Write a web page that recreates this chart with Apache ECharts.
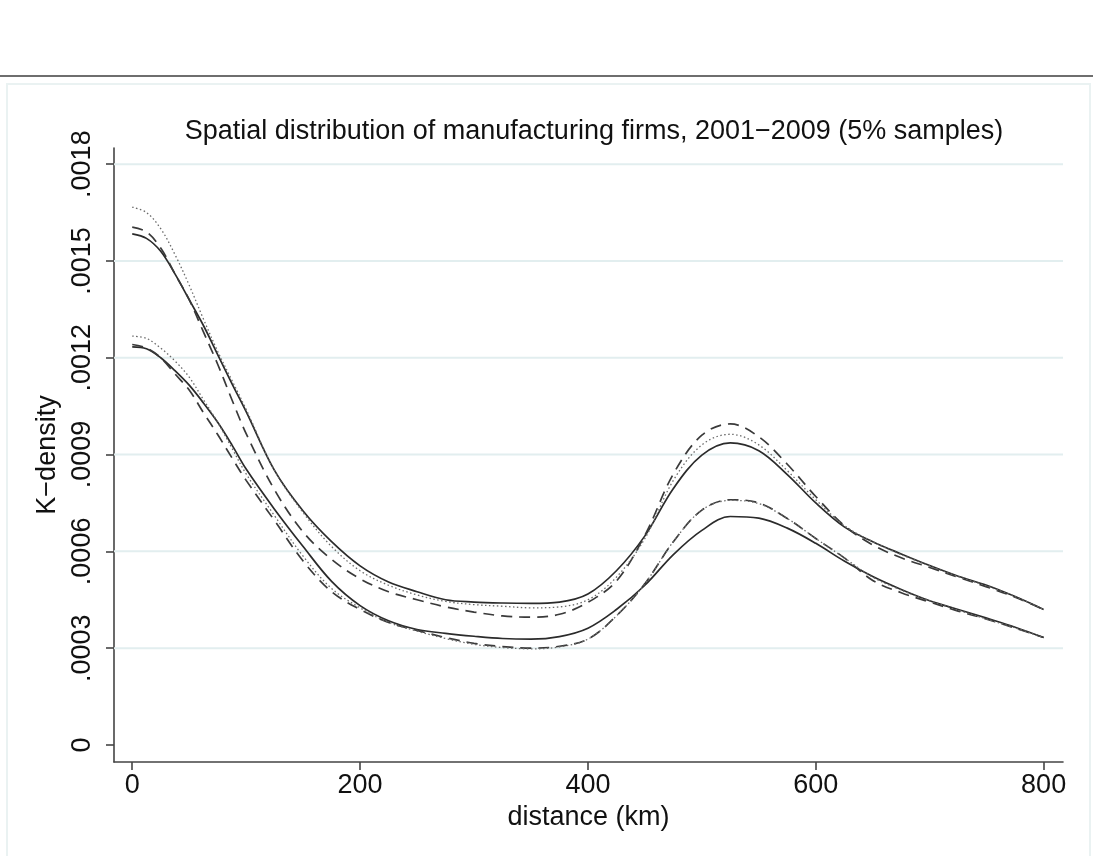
<html>
<head>
<meta charset="UTF-8">
<title>K-density</title>
<script src="https://cdn.jsdelivr.net/npm/echarts@6.0.0/dist/echarts.min.js"></script>
<style>
html, body { margin: 0; padding: 0; background: #fff; }
#chart { width: 1093px; height: 856px; }
</style>
</head>
<body>
<div id="chart"></div>
<script type="text/javascript">
// distance in km
var distance = [0, 12.5, 25, 37.5, 50, 62.5, 75, 87.5, 100, 125, 150, 175, 200, 225, 250, 275, 300, 325, 350, 375, 400,
	425, 450, 475, 500, 525, 550, 575, 600, 625, 650, 675, 700, 725, 750, 775, 800];

// upper group
var upperSolid = [0.001584, 0.00157, 0.00153, 0.00146, 0.00138, 0.0013, 0.00121, 0.00112, 0.001033,
	0.00085, 0.000725, 0.00063, 0.000555, 0.000505, 0.000475, 0.00045, 0.000443, 0.00044, 0.000439, 0.000443, 0.000468,
	0.00054, 0.000648, 0.000795, 0.000898, 0.000936, 0.000912, 0.000838, 0.00075,
	0.000676, 0.00063, 0.000592, 0.000556, 0.000523, 0.000495, 0.00046, 0.00042];
var upperDash = [0.001605, 0.00159, 0.00154, 0.00146, 0.00138, 0.00128, 0.00118, 0.00107, 0.000965,
	0.00079, 0.00066, 0.000575, 0.000515, 0.000475, 0.00045, 0.000428, 0.000412, 0.0004, 0.000396, 0.000405, 0.000442,
	0.000508, 0.00065, 0.00084, 0.00096, 0.000995, 0.000955, 0.00087, 0.00077,
	0.00068, 0.00062, 0.00058, 0.00055, 0.00052, 0.00049, 0.000458, 0.00042];
var upperDot = [0.001667, 0.00165, 0.0016, 0.00152, 0.001425, 0.00132, 0.00122, 0.00113, 0.00104,
	0.00085, 0.00072, 0.000615, 0.00054, 0.000495, 0.000465, 0.000445, 0.000435, 0.00043, 0.000425, 0.000428, 0.00045,
	0.00052, 0.00064, 0.00082, 0.00093, 0.000963, 0.00093, 0.00085, 0.00076,
	0.00068, 0.00063, 0.00059, 0.000555, 0.000522, 0.000493, 0.00046, 0.00042];

// lower group
var lowerSolid = [0.001234, 0.001228, 0.0012, 0.00116, 0.001115, 0.00106, 0.001, 0.00093, 0.000855,
	0.00073, 0.000615, 0.000507, 0.000432, 0.000385, 0.000358, 0.000346, 0.000337, 0.00033, 0.000328, 0.000336, 0.000362,
	0.00042, 0.000495, 0.00059, 0.000665, 0.000708, 0.000703, 0.000672, 0.000625,
	0.00057, 0.000522, 0.000482, 0.000447, 0.00042, 0.000393, 0.000365, 0.000333];
var lowerDash = [0.001241, 0.00123, 0.0012, 0.00115, 0.0011, 0.00103, 0.000962, 0.00089, 0.00082,
	0.000695, 0.00057, 0.000475, 0.00042, 0.00038, 0.000355, 0.000333, 0.000315, 0.000305, 0.0003, 0.000306, 0.000328,
	0.0004, 0.0005, 0.00063, 0.000728, 0.00076, 0.00075, 0.000702, 0.00064,
	0.00058, 0.00051, 0.000472, 0.000443, 0.000415, 0.00039, 0.000362, 0.000333];
var lowerDot = [0.001267, 0.00126, 0.00123, 0.00119, 0.00114, 0.00107, 0.001, 0.00092, 0.00084,
	0.00071, 0.000585, 0.000485, 0.000425, 0.00038, 0.000353, 0.00033, 0.000312, 0.000302, 0.000298, 0.000304, 0.000328,
	0.0004, 0.0005, 0.00063, 0.000728, 0.000758, 0.000748, 0.000702, 0.00064,
	0.00058, 0.00052, 0.00048, 0.000447, 0.000418, 0.00039, 0.000363, 0.000333];

var xTicks = [0, 200, 400, 600, 800];
var yTicks = [0, 0.0003, 0.0006, 0.0009, 0.0012, 0.0015, 0.0018];
var gridValues = [0.0003, 0.0006, 0.0009, 0.0012, 0.0015, 0.0018];
var xMin = -16, xMax = 817;
var yMin = -0.0000527, yMax = 0.00185;

function pairs(ys) {
	var out = [];
	for (var i = 0; i < distance.length; i++) {
		out.push([distance[i], ys[i]]);
	}
	return out;
}

function mkSeries(name, ys, style) {
	return {
		name: name,
		type: 'line',
		data: pairs(ys),
		smooth: 0.35,
		symbol: 'none',
		lineStyle: style,
		z: 3
	};
}

var solidStyle = { color: '#2b2b2b', width: 1.7, type: 'solid' };
var dashStyle = { color: '#3a3a3a', width: 1.7, type: [11, 7] };
var dotStyle = { color: '#6a6a6a', width: 1.3, type: [1.5, 2.5] };

var font = 'Liberation Sans, Arial, sans-serif';

var series = [];
// horizontal grid lines at the y ticks (not at 0)
gridValues.forEach(function (v) {
	series.push({
		type: 'line',
		data: [[xMin, v], [xMax, v]],
		symbol: 'none',
		silent: true,
		z: 1,
		lineStyle: { color: '#e2eeef', width: 2 }
	});
});
series.push(mkSeries('upper solid', upperSolid, solidStyle));
series.push(mkSeries('upper dash', upperDash, dashStyle));
series.push(mkSeries('upper dot', upperDot, dotStyle));
series.push(mkSeries('lower solid', lowerSolid, solidStyle));
series.push(mkSeries('lower dash', lowerDash, dashStyle));
series.push(mkSeries('lower dot', lowerDot, dotStyle));

var myChart = echarts.init(document.getElementById('chart'), null, { renderer: 'canvas' });
var option = {
	backgroundColor: '#fff',
	animation: false,
	title: {
		text: 'Spatial distribution of manufacturing firms, 2001\u22122009 (5% samples)',
		left: 589,
		top: 113,
		textAlign: 'center',
		textStyle: { fontFamily: font, fontSize: 27, fontWeight: 'normal', color: '#111' }
	},
	graphic: [
		{ type: 'line', shape: { x1: 0, y1: 76, x2: 1093, y2: 76 }, style: { stroke: '#6e6e6e', lineWidth: 2 } },
		{ type: 'rect', shape: { x: 7, y: 84, width: 1083, height: 800 }, style: { fill: 'none', stroke: '#eaf2f2', lineWidth: 2 } }
	],
	grid: { left: 114, right: 30, top: 148, bottom: 94, containLabel: false },
	xAxis: {
		type: 'value',
		min: xMin,
		max: xMax,
		name: 'distance (km)',
		nameLocation: 'middle',
		nameGap: 42,
		nameTextStyle: { fontFamily: font, fontSize: 27, color: '#111' },
		axisLine: { show: true, onZero: false, lineStyle: { color: '#444', width: 1.6 } },
		axisTick: { show: true, length: 8, customValues: xTicks, lineStyle: { color: '#444', width: 1.6 } },
		axisLabel: { customValues: xTicks, margin: 10, fontFamily: font, fontSize: 27, color: '#111' },
		splitLine: { show: false }
	},
	yAxis: {
		type: 'value',
		min: yMin,
		max: yMax,
		name: 'K\u2212density',
		nameLocation: 'middle',
		nameRotate: 90,
		nameGap: 44,
		nameTextStyle: { fontFamily: font, fontSize: 27, color: '#111' },
		axisLine: { show: true, onZero: false, lineStyle: { color: '#444', width: 1.6 } },
		axisTick: { show: true, length: 8, customValues: yTicks, lineStyle: { color: '#444', width: 1.6 } },
		axisLabel: {
			customValues: yTicks,
			rotate: 90,
			margin: 18,
			fontFamily: font,
			fontSize: 27,
			color: '#111',
			formatter: function (v) {
				if (Math.abs(v) < 1e-9) return '0';
				return String(Number(v.toFixed(4))).replace(/^0\./, '.');
			}
		},
		splitLine: { show: false }
	},
	series: series
};
myChart.setOption(option);
</script>
</body>
</html>
